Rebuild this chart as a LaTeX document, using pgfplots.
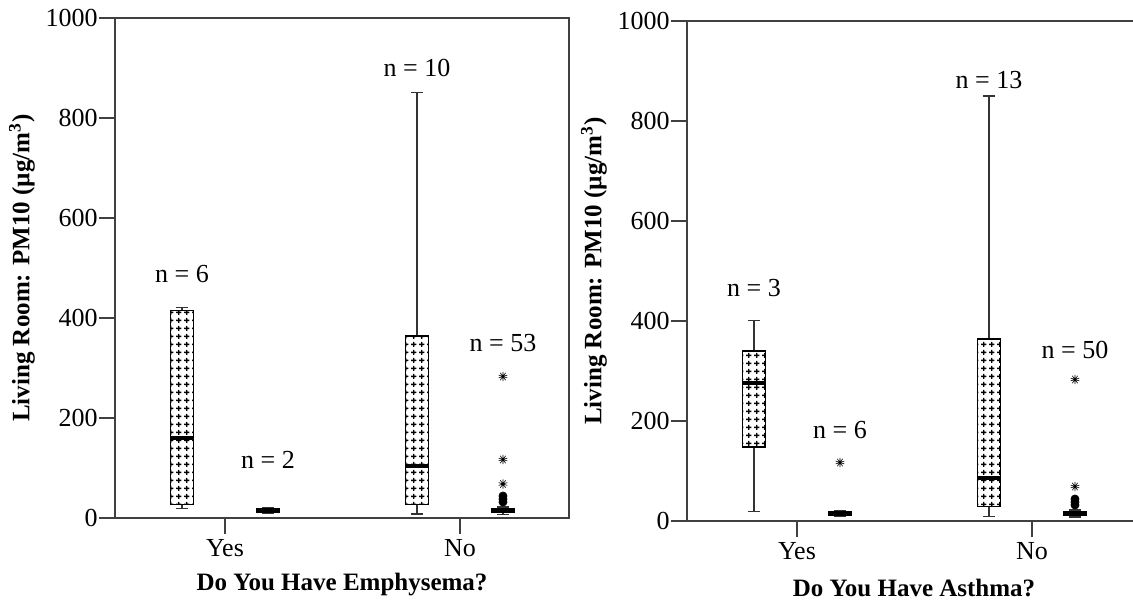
\documentclass[border=0pt]{standalone}
\usepackage{fontspec}
\setmainfont{Liberation Serif}
\usepackage{pgfplots}
\pgfplotsset{compat=1.18}
\usepgfplotslibrary{statistics}
\usetikzlibrary{patterns}

% grid of small plus signs used to fill the first box of each group
\pgfdeclarepatternformonly{plusgrid}{\pgfqpoint{0pt}{0pt}}{\pgfqpoint{3.8pt}{3.8pt}}{\pgfqpoint{3.8pt}{3.8pt}}{%
  \pgfsetlinewidth{0.7pt}%
  \pgfpathmoveto{\pgfqpoint{0.55pt}{1.9pt}}\pgfpathlineto{\pgfqpoint{3.25pt}{1.9pt}}%
  \pgfpathmoveto{\pgfqpoint{1.9pt}{0.55pt}}\pgfpathlineto{\pgfqpoint{1.9pt}{3.25pt}}%
  \pgfusepath{stroke}}

\tikzset{nlabel/.style={font=\fontsize{13}{15}\selectfont}}

\pgfplotsset{
  panel/.style={
    scale only axis, width=227pt, height=250pt,
    xmin=0.532, xmax=2.464, ymin=0, ymax=1000,
    xtick={1,2}, xticklabels={Yes,No},
    ytick={0,200,...,1000},
    tick pos=left, tick align=outside,
    major tick length=8pt,
    axis line style={black!75, line width=0.7pt},
    every tick/.style={black!75, line width=0.7pt},
    /pgf/number format/assume math mode=true,
    /pgf/number format/1000 sep={},
    tick label style={font=\fontsize{13}{15}\selectfont},
    yticklabel style={inner xsep=0.5pt},
    xticklabel style={yshift=1pt},
    label style={font=\fontsize{12.5}{15}\selectfont\bfseries},
    ylabel={Living Room: PM10 (µg/m\textsuperscript{3})},
    ylabel style={at={(axis description cs:-0.205,0.5)}, anchor=center},
    xlabel style={at={(axis description cs:0.5,-0.134)}, anchor=center},
    boxplot/draw direction=y,
    boxplot/box extend=0.098,
    boxplot/whisker extend=0.05,
    boxplot/every median/.style={line width=2pt, black},
    boxplot/every whisker/.style={black!80, line width=0.7pt},
    clip=false,
  },
  patbox/.style={black, line width=0.7pt,
    boxplot/every box/.style={draw=black, line width=0.8pt, pattern=plusgrid, pattern color=black}},
  solidbox/.style={black, line width=0.7pt,
    boxplot/every box/.style={draw=black, fill=black}},
  extreme/.style={only marks, mark=10-pointed star, mark size=2.3pt,
    mark options={fill=black, draw=black, line width=0.3pt}},
  outlier/.style={only marks, mark=*, mark size=2pt, mark options={fill=black, draw=black}},
}

\begin{document}
\begin{tikzpicture}
% ---- Emphysema ----
\begin{axis}[panel, at={(57.5pt,44pt)}, anchor=south west,
  xlabel={Do You Have Emphysema?}]
\addplot[patbox, boxplot prepared={draw position=0.817,
  lower whisker=19, lower quartile=27, median=161, upper quartile=415, upper whisker=421}]
  coordinates {};
\addplot[solidbox, boxplot prepared={draw position=1.183,
  lower whisker=10, lower quartile=11, median=15, upper quartile=19, upper whisker=20}]
  coordinates {};
\addplot[patbox, boxplot prepared={draw position=1.817,
  lower whisker=8, lower quartile=27, median=104, upper quartile=364, upper whisker=851}]
  coordinates {};
\addplot[solidbox, boxplot prepared={draw position=2.183,
  lower whisker=7, lower quartile=11, median=15, upper quartile=19, upper whisker=22}]
  coordinates {};
\addplot[outlier] coordinates {(2.183,32) (2.183,38) (2.183,44)};
\addplot[extreme] coordinates {(2.183,68) (2.183,117) (2.183,283)};
\node[nlabel] at (axis cs:0.817,488) {n = 6};
\node[nlabel] at (axis cs:1.183,116) {n = 2};
\node[nlabel] at (axis cs:1.817,900) {n = 10};
\node[nlabel] at (axis cs:2.183,349) {n = 53};
\end{axis}
% ---- Asthma ----
\begin{axis}[panel, at={(343.5pt,42.5pt)}, anchor=south west,
  xlabel={Do You Have Asthma?}]
\addplot[patbox, boxplot prepared={draw position=0.817,
  lower whisker=19, lower quartile=148, median=277, upper quartile=340, upper whisker=401}]
  coordinates {};
\addplot[solidbox, boxplot prepared={draw position=1.183,
  lower whisker=9, lower quartile=11, median=15, upper quartile=19, upper whisker=20}]
  coordinates {};
\addplot[patbox, boxplot prepared={draw position=1.817,
  lower whisker=9, lower quartile=29, median=87, upper quartile=364, upper whisker=850}]
  coordinates {};
\addplot[solidbox, boxplot prepared={draw position=2.183,
  lower whisker=8, lower quartile=11, median=15, upper quartile=19, upper whisker=22}]
  coordinates {};
\addplot[outlier] coordinates {(2.183,32) (2.183,38) (2.183,44)};
\addplot[extreme] coordinates {(1.183,117) (2.183,69) (2.183,283)};
\node[nlabel] at (axis cs:0.817,466) {n = 3};
\node[nlabel] at (axis cs:1.183,181) {n = 6};
\node[nlabel] at (axis cs:1.817,882) {n = 13};
\node[nlabel] at (axis cs:2.183,343) {n = 50};
\end{axis}
\pgfresetboundingbox
\path[use as bounding box] (0,0) rectangle (566.5pt,303pt);
\end{tikzpicture}
\end{document}
